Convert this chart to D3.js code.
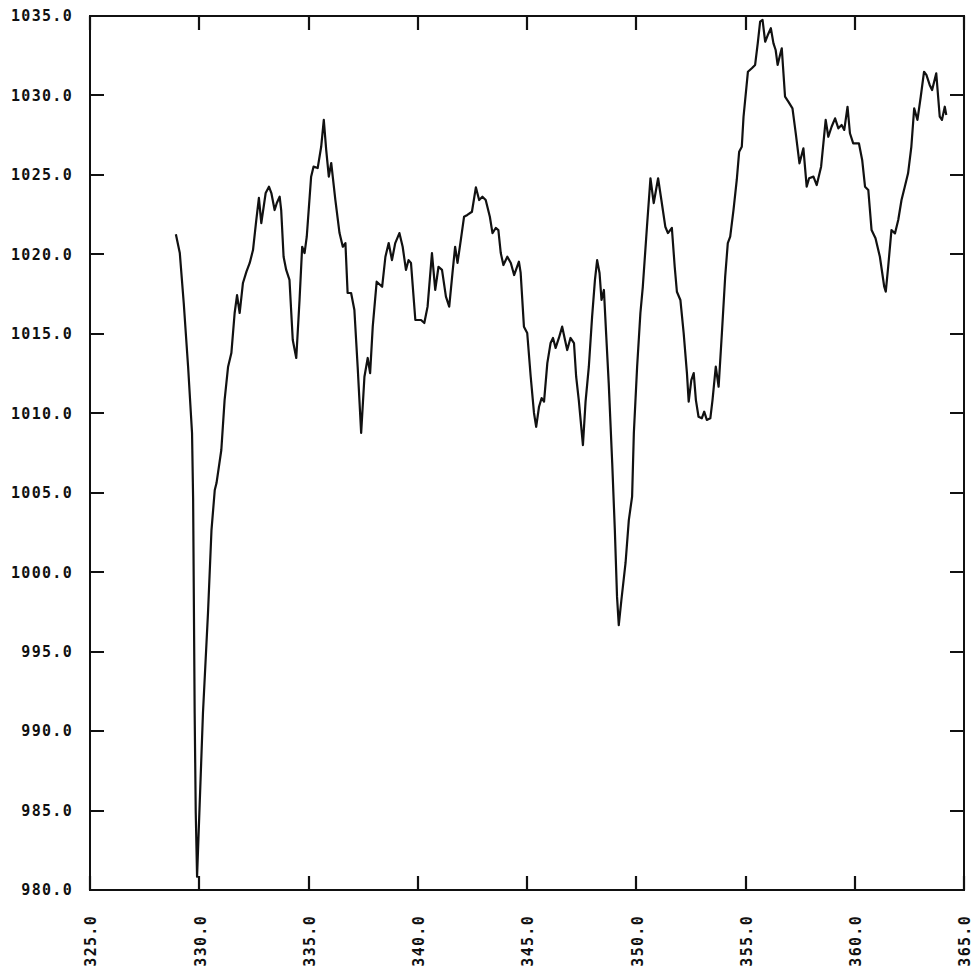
<!DOCTYPE html>
<html>
<head>
<meta charset="utf-8">
<script src="https://cdn.jsdelivr.net/npm/d3@7"></script>
<style>
  html, body { margin: 0; padding: 0; background: #ffffff; }
  svg { display: block; }
  .lbl { font-family: "DejaVu Sans Mono", "Liberation Mono", monospace; font-weight: bold; font-size: 15px; fill: #111; letter-spacing: 1.3px; }
</style>
</head>
<body>
<script>
// ---- data ----
const xValues = [
  328.93, 329.11, 329.29, 329.49, 329.67, 329.72, 329.79, 329.84, 329.90, 330.17,
  330.40, 330.56, 330.71, 330.79, 331.01, 331.16, 331.32, 331.47, 331.62, 331.73,
  331.85, 332.00, 332.16, 332.31, 332.46, 332.61, 332.73, 332.84, 333.04, 333.19,
  333.30, 333.45, 333.55, 333.68, 333.75, 333.86, 333.98, 334.13, 334.28, 334.44,
  334.59, 334.71, 334.82, 334.92, 335.12, 335.23, 335.42, 335.58, 335.70, 335.81,
  335.93, 336.04, 336.23, 336.42, 336.57, 336.69, 336.79, 336.95, 337.10, 337.25,
  337.41, 337.56, 337.71, 337.82, 337.94, 338.12, 338.37, 338.52, 338.67, 338.82,
  338.97, 339.16, 339.31, 339.46, 339.58, 339.69, 339.89, 340.15, 340.30, 340.45,
  340.65, 340.80, 340.95, 341.11, 341.29, 341.44, 341.59, 341.71, 341.82, 341.97,
  342.12, 342.27, 342.48, 342.66, 342.81, 342.96, 343.11, 343.30, 343.42, 343.57,
  343.69, 343.80, 343.92, 344.10, 344.26, 344.41, 344.63, 344.71, 344.86, 345.01,
  345.17, 345.32, 345.42, 345.55, 345.67, 345.78, 345.93, 346.08, 346.19, 346.31,
  346.46, 346.61, 346.74, 346.84, 346.99, 347.15, 347.25, 347.37, 347.56, 347.68,
  347.83, 347.98, 348.11, 348.21, 348.32, 348.41, 348.52, 348.62, 348.74, 348.90,
  349.02, 349.12, 349.20, 349.32, 349.51, 349.66, 349.81, 349.89, 350.04, 350.19,
  350.30, 350.49, 350.65, 350.80, 351.00, 351.15, 351.33, 351.45, 351.63, 351.76,
  351.86, 352.02, 352.17, 352.32, 352.40, 352.52, 352.63, 352.73, 352.85, 353.00,
  353.11, 353.23, 353.39, 353.49, 353.64, 353.77, 353.92, 354.07, 354.19, 354.30,
  354.45, 354.60, 354.71, 354.83, 354.91, 355.11, 355.29, 355.44, 355.56, 355.67,
  355.78, 355.90, 356.02, 356.16, 356.28, 356.38, 356.47, 356.58, 356.66, 356.81,
  356.96, 357.15, 357.30, 357.47, 357.65, 357.80, 357.91, 358.11, 358.26, 358.46,
  358.67, 358.79, 358.94, 359.10, 359.25, 359.40, 359.52, 359.67, 359.78, 359.93,
  360.19, 360.34, 360.47, 360.62, 360.77, 360.95, 361.15, 361.35, 361.42, 361.53,
  361.68, 361.84, 361.99, 362.14, 362.29, 362.44, 362.59, 362.72, 362.87, 363.02,
  363.17, 363.28, 363.43, 363.54, 363.73, 363.89, 363.99, 364.12, 364.19
];
const yValues = [
  1021.26, 1020.08, 1016.94, 1012.93, 1008.76, 1004.54, 991.14, 984.84, 980.83, 991.14,
  997.43, 1002.65, 1005.17, 1005.61, 1007.69, 1010.83, 1012.93, 1013.79, 1016.31, 1017.44,
  1016.31, 1018.20, 1018.91, 1019.46, 1020.27, 1022.16, 1023.55, 1021.97, 1023.86, 1024.26,
  1023.86, 1022.79, 1023.23, 1023.63, 1022.79, 1019.85, 1019.02, 1018.39, 1014.61, 1013.48,
  1017.13, 1020.48, 1020.08, 1021.11, 1024.89, 1025.52, 1025.43, 1026.77, 1028.46, 1026.57,
  1024.89, 1025.75, 1023.42, 1021.34, 1020.48, 1020.71, 1017.57, 1017.57, 1016.50, 1012.93,
  1008.76, 1012.30, 1013.48, 1012.53, 1015.45, 1018.28, 1017.96, 1019.85, 1020.71, 1019.64,
  1020.71, 1021.34, 1020.48, 1019.02, 1019.64, 1019.46, 1015.87, 1015.87, 1015.68, 1016.71,
  1020.08, 1017.76, 1019.22, 1019.02, 1017.34, 1016.71, 1018.83, 1020.48, 1019.46, 1020.90,
  1022.37, 1022.48, 1022.68, 1024.22, 1023.42, 1023.63, 1023.42, 1022.37, 1021.34, 1021.66,
  1021.53, 1020.08, 1019.33, 1019.85, 1019.46, 1018.70, 1019.54, 1018.83, 1015.45, 1015.05,
  1012.30, 1010.02, 1009.15, 1010.41, 1010.96, 1010.73, 1013.16, 1014.42, 1014.74, 1014.11,
  1014.74, 1015.45, 1014.61, 1013.98, 1014.74, 1014.42, 1012.30, 1010.83, 1008.00, 1010.73,
  1012.93, 1016.08, 1018.39, 1019.64, 1018.83, 1017.13, 1017.76, 1015.05, 1011.90, 1006.87,
  1002.65, 998.46, 996.67, 998.25, 1000.58, 1003.28, 1004.75, 1008.76, 1012.93, 1016.31,
  1017.96, 1021.74, 1024.79, 1023.23, 1024.79, 1023.42, 1021.74, 1021.34, 1021.66, 1019.22,
  1017.65, 1017.13, 1015.05, 1012.53, 1010.73, 1012.09, 1012.53, 1010.83, 1009.78, 1009.68,
  1010.10, 1009.58, 1009.68, 1010.83, 1012.93, 1011.67, 1015.05, 1018.59, 1020.71, 1021.11,
  1022.79, 1024.68, 1026.46, 1026.77, 1028.66, 1031.49, 1031.71, 1031.92, 1033.28, 1034.64,
  1034.75, 1033.38, 1033.80, 1034.23, 1033.28, 1032.86, 1031.92, 1032.55, 1032.97, 1029.92,
  1029.61, 1029.19, 1027.62, 1025.73, 1026.67, 1024.26, 1024.79, 1024.89, 1024.36, 1025.52,
  1028.46, 1027.40, 1028.03, 1028.56, 1027.93, 1028.14, 1027.83, 1029.29, 1027.62, 1026.99,
  1026.99, 1025.94, 1024.26, 1024.05, 1021.53, 1021.01, 1019.85, 1017.96, 1017.65, 1019.22,
  1021.53, 1021.32, 1022.16, 1023.42, 1024.26, 1025.10, 1026.77, 1029.19, 1028.46, 1029.92,
  1031.49, 1031.29, 1030.66, 1030.34, 1031.39, 1028.66, 1028.46, 1029.29, 1028.77
];
const xTicks = [325, 330, 335, 340, 345, 350, 355, 360, 365];
const yTicks = [980, 985, 990, 995, 1000, 1005, 1010, 1015, 1020, 1025, 1030, 1035];
const xDomain = [325, 365];
const yDomain = [980, 1035];

// ---- layout ----
const W = 974, H = 969;
const margin = { left: 90, right: 10, top: 16, bottom: 79 };
const iw = W - margin.left - margin.right;
const ih = H - margin.top - margin.bottom;

const svg = d3.select("body").append("svg").attr("width", W).attr("height", H);
svg.append("rect").attr("width", W).attr("height", H).attr("fill", "#ffffff");

const g = svg.append("g").attr("transform", `translate(${margin.left},${margin.top})`);

const x = d3.scaleLinear().domain(xDomain).range([0, iw]);
const y = d3.scaleLinear().domain(yDomain).range([ih, 0]);
const fmt = d3.format(".1f");
const TICK = 14;
const INK = "#111";

// frame
g.append("rect").attr("x", 0).attr("y", 0).attr("width", iw).attr("height", ih)
  .attr("fill", "none").attr("stroke", INK).attr("stroke-width", 2);

// inward ticks on all four sides
const p = d3.path();
yTicks.forEach(v => {
  const yy = Math.round(y(v));
  p.moveTo(0, yy); p.lineTo(TICK, yy);
  p.moveTo(iw - TICK, yy); p.lineTo(iw, yy);
});
xTicks.forEach(v => {
  const xx = Math.round(x(v));
  p.moveTo(xx, 0); p.lineTo(xx, TICK);
  p.moveTo(xx, ih - TICK); p.lineTo(xx, ih);
});
g.append("path")
  .attr("d", p.toString())
  .attr("fill", "none")
  .attr("stroke", INK)
  .attr("stroke-width", 2.2);

// y labels
g.append("g").selectAll("text").data(yTicks).join("text")
  .attr("class", "lbl")
  .attr("x", -17).attr("y", d => y(d)).attr("dy", "0.36em")
  .attr("text-anchor", "end")
  .text(d => fmt(d));

// x labels (rotated)
g.append("g").selectAll("text").data(xTicks).join("text")
  .attr("class", "lbl")
  .attr("transform", d => `translate(${x(d) + 1},${ih + 25}) rotate(-90)`)
  .attr("dy", "0.36em")
  .attr("text-anchor", "end")
  .text(d => fmt(d));

// line
const line = d3.line().x((d, i) => x(xValues[i])).y(d => y(d));
g.append("path")
  .datum(yValues)
  .attr("fill", "none")
  .attr("stroke", INK)
  .attr("stroke-width", 2.2)
  .attr("stroke-linejoin", "round")
  .attr("d", line);
</script>
</body>
</html>
